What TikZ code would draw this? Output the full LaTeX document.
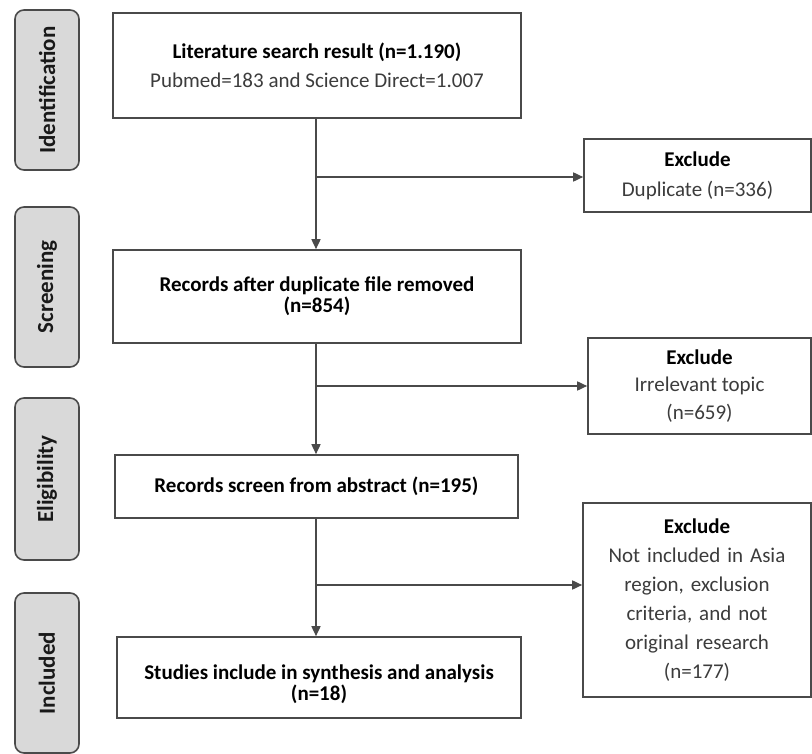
\documentclass[tikz,border=0pt]{standalone}
\usepackage{fontspec}
\setmainfont{Carlito}
\usetikzlibrary{arrows.meta,calc}
\definecolor{linec}{HTML}{4A4A4A}
\definecolor{txtc}{HTML}{3C3C3C}
\definecolor{sidefill}{HTML}{D9D9D9}
\tikzset{
  box/.style={draw=linec, line width=1.6pt, fill=white, inner sep=0pt, align=center, font=\fontsize{21}{21}\selectfont},
  sidebox/.style={draw=linec, line width=1.6pt, fill=sidefill, rounded corners=9pt, inner sep=0pt, minimum width=64pt, minimum height=160pt},
  sidetxt/.style={rotate=90, font=\fontsize{23}{26}\selectfont\bfseries, text=black!90},
  conn/.style={draw=linec, line width=1.6pt},
  arr/.style={conn, -{Triangle[length=10pt,width=9pt]}},
}
\begin{document}
\begin{tikzpicture}[x=1pt,y=-1pt]
\useasboundingbox (0,0) rectangle (812,754);
% side labels
\node[sidebox] (s1) at (47,90) {};
\node[sidetxt] at (s1) {Identification};
\node[sidebox] (s2) at (47,287) {};
\node[sidetxt] at (s2) {Screening};
\node[sidebox, minimum height=162pt] (s3) at (47,479) {};
\node[sidetxt] at (s3) {Eligibility};
\node[sidebox] (s4) at (47,673) {};
\node[sidetxt] at (s4) {Included};
% main boxes
\node[box, minimum width=408pt, minimum height=105pt] (b1) at (317,65.5)
  {\textbf{Literature search result (n=1.190)}\\[8pt]\textcolor{txtc}{Pubmed=183 and Science Direct=1.007}};
\node[box, minimum width=408pt, minimum height=93pt] (b2) at (317,296.5)
  {\textbf{Records after duplicate file removed}\\\textbf{(n=854)}};
\node[box, minimum width=403pt, minimum height=63pt] (b3) at (316.5,486.5)
  {\textbf{Records screen from abstract (n=195)}};
\node[box, minimum width=404pt, minimum height=81pt] (b4) at (319,677.5)
  {\rule{0pt}{29pt}\textbf{Studies include in synthesis and analysis}\\\textbf{(n=18)}};
% exclusion boxes
\node[box, minimum width=227pt, minimum height=73pt] (e1) at (697.5,175.5)
  {\textbf{Exclude}\\[9pt]\textcolor{txtc}{Duplicate (n=336)}};
\node[box, minimum width=223pt, minimum height=96pt] (e2) at (699.5,386)
  {\textbf{Exclude}\\[6.5pt]\textcolor{txtc}{Irrelevant topic}\\[6.5pt]\textcolor{txtc}{(n=659)}};
\node[box, minimum width=228pt, minimum height=194pt, text width=220pt] (e3) at (697,600)
  {\textbf{Exclude}\\[8pt]\textcolor{txtc}{Not included in Asia}\\[8pt]\textcolor{txtc}{region, exclusion}\\[8pt]\textcolor{txtc}{criteria, and not}\\[8pt]\textcolor{txtc}{original research}\\[8pt]\textcolor{txtc}{(n=177)}};
% branch points
\coordinate (t1) at (316,118);
\coordinate (br1) at (316,177);
\coordinate (br2) at (316,386);
\coordinate (br3) at (316,585);
% connectors
\draw[arr] (t1) -- (t1 |- b2.north);
\draw[arr] (br1) -- (br1 -| e1.west);
\draw[arr] (t1 |- b2.south) -- (t1 |- b3.north);
\draw[arr] (br2) -- (br2 -| e2.west);
\draw[arr] (t1 |- b3.south) -- (t1 |- b4.north);
\draw[arr] (br3) -- (br3 -| e3.west);
\end{tikzpicture}
\end{document}
